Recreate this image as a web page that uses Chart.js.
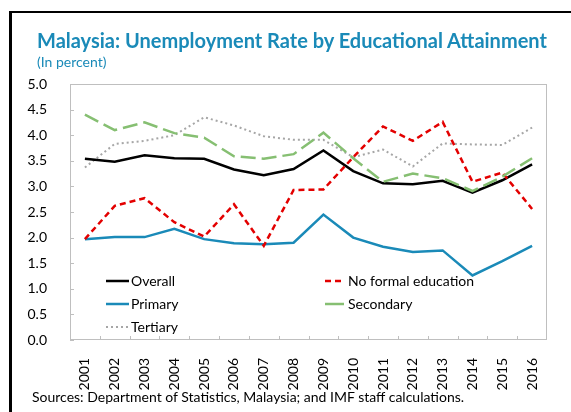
<!DOCTYPE html>
<html>
<head>
<meta charset="utf-8">
<script src="https://cdn.jsdelivr.net/npm/chart.js@4.4.1/dist/chart.umd.min.js"></script>
<style>
    html, body { margin: 0; padding: 0; background: #fff; }
    body { width: 571px; height: 412px; position: relative; overflow: hidden; font-family: Lato, "Open Sans", sans-serif; }
    .frame { position: absolute; left: 9px; top: 11px; right: 0; bottom: 0; border-left: 3px solid #000; border-top: 2px solid #000; }
    .title { position: absolute; left: 37px; top: 28px; font-size: 20px; font-weight: bold; color: #1a8ab8; white-space: nowrap; }
    .subtitle { position: absolute; left: 37px; top: 53px; font-size: 14px; color: #1a8ab8; }
    .source { position: absolute; left: 32px; top: 388px; font-size: 14px; color: #000; white-space: nowrap; }
    #chartBox { position: absolute; left: 0; top: 0; width: 571px; height: 412px; }
</style>
</head>
<body>
<div class="frame"></div>
<div id="chartBox"><canvas id="unempChart"></canvas></div>
<div class="title">Malaysia: Unemployment Rate by Educational Attainment</div>
<div class="subtitle">(In percent)</div>
<div class="source">Sources: Department of Statistics, Malaysia; and IMF staff calculations.</div>
<script>
const years = ["2001", "2002", "2003", "2004", "2005", "2006", "2007", "2008",
               "2009", "2010", "2011", "2012", "2013", "2014", "2015", "2016"];

const overall     = [3.54, 3.48, 3.61, 3.55, 3.54, 3.33, 3.22, 3.34, 3.70, 3.30, 3.06, 3.04, 3.11, 2.88, 3.12, 3.43];
const noFormal    = [1.97, 2.62, 2.77, 2.30, 2.02, 2.65, 1.84, 2.93, 2.94, 3.57, 4.17, 3.89, 4.26, 3.09, 3.27, 2.56];
const primary     = [1.97, 2.01, 2.01, 2.17, 1.97, 1.89, 1.87, 1.90, 2.45, 2.00, 1.82, 1.72, 1.75, 1.26, 1.54, 1.84];
const secondary   = [4.40, 4.10, 4.25, 4.04, 3.95, 3.59, 3.54, 3.63, 4.05, 3.55, 3.09, 3.25, 3.16, 2.91, 3.19, 3.55];
const tertiary    = [3.37, 3.83, 3.89, 4.00, 4.35, 4.19, 3.98, 3.91, 3.91, 3.57, 3.72, 3.39, 3.84, 3.82, 3.81, 4.15];

const yTicks = [0, 0.5, 1, 1.5, 2, 2.5, 3, 3.5, 4, 4.5, 5];

// box round the plot and short tick marks pointing inward
const framePlugin = {
    id: "framePlugin",
    afterDraw(chart) {
        const { ctx, chartArea: a, scales } = chart;
        ctx.save();
        ctx.strokeStyle = "#bfbfbf";
        ctx.lineWidth = 1;
        ctx.strokeRect(a.left + 0.5, a.top + 0.5, a.right - a.left - 1, a.bottom - a.top - 1);
        ctx.beginPath();
        yTicks.forEach((t) => {
            const y = Math.round(scales.y.getPixelForValue(t)) + 0.5;
            ctx.moveTo(a.left, y);
            ctx.lineTo(a.left + 4, y);
        });
        for (let i = 1; i < years.length; i++) {
            const x = Math.round((scales.x.getPixelForValue(i - 1) + scales.x.getPixelForValue(i)) / 2) + 0.5;
            ctx.moveTo(x, a.bottom);
            ctx.lineTo(x, a.bottom - 4);
        }
        ctx.stroke();
        ctx.restore();
    }
};

// legend inside the plot, two columns
const legendPlugin = {
    id: "legendPlugin",
    afterDraw(chart) {
        const ctx = chart.ctx;
        const cols = [{ x0: 106, x1: 129, tx: 131 }, { x0: 325, x1: 344, tx: 348 }];
        ctx.save();
        ctx.font = "14px Lato";
        ctx.textBaseline = "middle";
        ctx.fillStyle = "#000";
        chart.data.datasets.forEach((ds, k) => {
            const col = cols[k % 2];
            const y = 281 + Math.floor(k / 2) * 23;
            ctx.strokeStyle = ds.borderColor;
            ctx.lineWidth = ds.borderWidth;
            ctx.setLineDash(ds.legendDash || ds.borderDash || []);
            ctx.beginPath();
            ctx.moveTo(col.x0, y);
            ctx.lineTo(col.x1, y);
            ctx.stroke();
            ctx.setLineDash([]);
            ctx.fillText(ds.label, col.tx, y);
        });
        ctx.restore();
    }
};

const ctx = document.getElementById("unempChart").getContext("2d");
new Chart(ctx, {
    type: "line",
    data: {
        labels: years,
        datasets: [
            { label: "Overall", data: overall, borderColor: "#000000", borderWidth: 2.5, order: 2 },
            { label: "No formal education", data: noFormal, borderColor: "#e30000", borderWidth: 2.5, borderDash: [6, 4], order: 1 },
            { label: "Primary", data: primary, borderColor: "#1a8ab8", borderWidth: 2.5, order: 3 },
            { label: "Secondary", data: secondary, borderColor: "#86bf72", borderWidth: 2.5, borderDash: [15, 6], legendDash: [], order: 0 },
            { label: "Tertiary", data: tertiary, borderColor: "#a6a6a6", borderWidth: 2, borderDash: [2, 3], order: 4 }
        ]
    },
    options: {
        responsive: true,
        maintainAspectRatio: false,
        animation: false,
        elements: { point: { radius: 0 }, line: { tension: 0, fill: false } },
        layout: { padding: { left: 0, top: 84, right: 24, bottom: 20 } },
        plugins: { legend: { display: false }, tooltip: { enabled: false } },
        scales: {
            x: {
                offset: true,
                grid: { display: false },
                border: { display: false },
                ticks: {
                    color: "#000", font: { family: "Lato", size: 14 },
                    minRotation: 90, maxRotation: 90, padding: 10, autoSkip: false
                },
                afterFit: (s) => { s.height = 52; }
            },
            y: {
                min: 0, max: 5,
                grid: { display: false },
                border: { display: false },
                ticks: {
                    stepSize: 0.5, color: "#000", font: { family: "Lato", size: 14 }, padding: 15,
                    callback: (v) => v.toFixed(1)
                },
                afterFit: (s) => { s.width = 70; }
            }
        }
    },
    plugins: [framePlugin, legendPlugin]
});
</script>
</body>
</html>
